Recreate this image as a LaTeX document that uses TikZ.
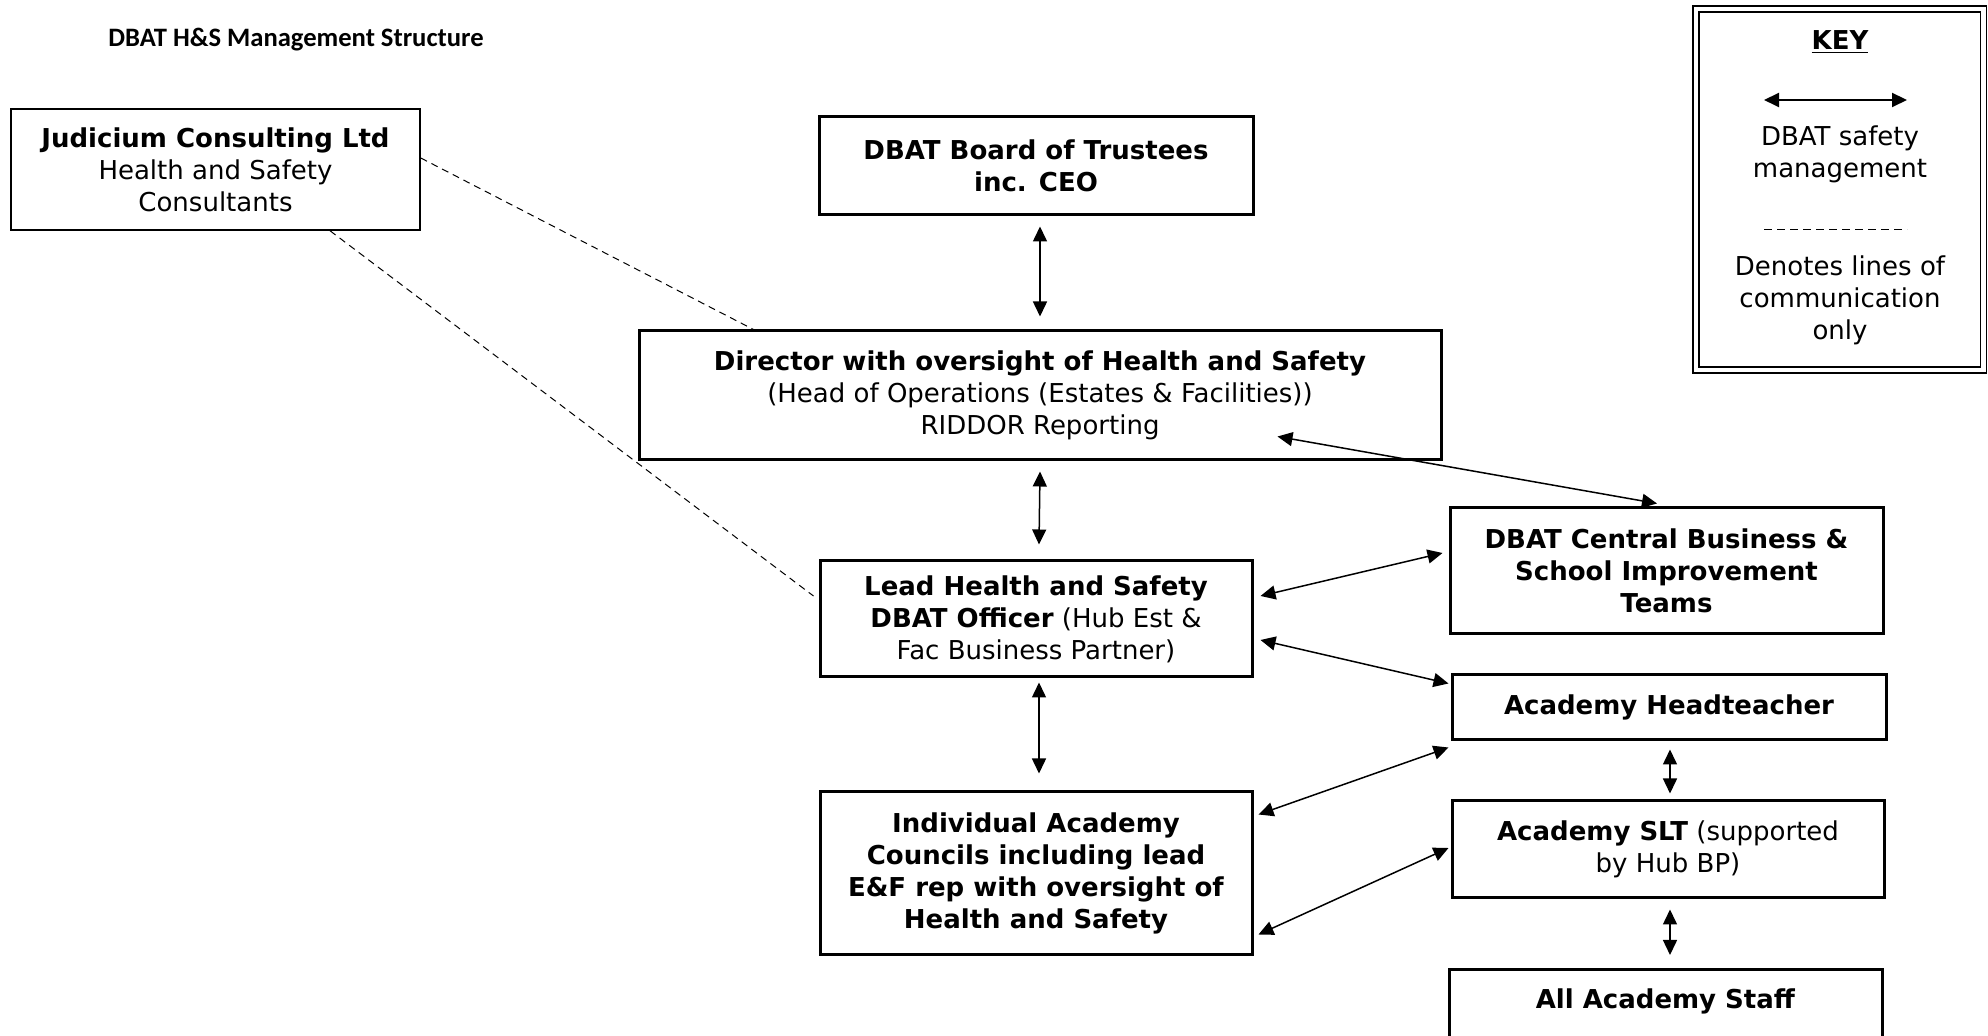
\documentclass[tikz,border=0pt]{standalone}
\usepackage{fontspec}
\setmainfont{DejaVu Sans}
\newfontfamily\titlefont{Carlito}
\usetikzlibrary{arrows.meta,positioning,calc}

\tikzset{
  box/.style={draw, line width=1.5pt, align=center, inner sep=0pt,
              font=\fontsize{13}{16}\selectfont},
  thinbox/.style={box, line width=0.75pt},
  keybox/.style={draw, line width=0.75pt, double, double distance=2.25pt},
  keytext/.style={font=\fontsize{13}{16}\selectfont, align=center, inner sep=0pt},
  link/.style={line width=0.75pt, {Triangle[length=7.5pt,width=7pt]}-{Triangle[length=7.5pt,width=7pt]}},
  commline/.style={line width=0.5pt, dash pattern=on 3.5pt off 2.5pt}
}

\begin{document}
\begin{tikzpicture}[x=0.5pt, y=-0.5pt]
  \useasboundingbox (0,0) rectangle (1988,1036);
  % Title
  \node[font=\titlefont\bfseries\fontsize{13.3}{16}\selectfont, anchor=west, inner sep=0pt] (title) at (108,40)
    {DBAT H\&S Management Structure};
  % Consultants
  \node[thinbox, minimum width=204.5pt, minimum height=60.5pt] (judicium) at (215.5,169.5)
    {\textbf{Judicium Consulting Ltd}\\Health and Safety\\Consultants};
  % Trust level
  \node[box, minimum width=217pt, minimum height=49pt] (board) at (1036,166)
    {\textbf{DBAT Board of Trustees}\\\textbf{inc. CEO}};
  \node[box, minimum width=401pt, minimum height=64.5pt] (director) at (1040,395.5)
    {\textbf{Director with oversight of Health and Safety}\\(Head of Operations (Estates \& Facilities))\\RIDDOR Reporting};
  \node[box, minimum width=216pt, minimum height=58pt] (lead) at (1036,619)
    {\textbf{Lead Health and Safety}\\\textbf{DBAT Officer} (Hub Est \&\\Fac Business Partner)};
  \node[box, minimum width=216pt, minimum height=81.5pt] (indiv) at (1036,873.5)
    {\textbf{Individual Academy}\\\textbf{Councils including lead}\\\textbf{E\&F rep with oversight of}\\\textbf{Health and Safety}};
  % Central and academy level
  \node[box, minimum width=216.5pt, minimum height=63pt] (central) at (1666.5,571)
    {\textbf{DBAT Central Business \&}\\\textbf{School Improvement}\\\textbf{Teams}};
  \node[box, minimum width=217pt, minimum height=32.5pt] (head) at (1669,707.5)
    {\textbf{Academy Headteacher}};
  \node[box, minimum width=216.5pt, anchor=north, text height=19.5pt,
        text depth=34pt] (staff) at (1665.5,968)
    {\textbf{All Academy Staff}};
  \node[box, minimum width=216pt, minimum height=48.5pt] (slt) at (1668,849.5)
    {\textbf{Academy SLT} (supported\\by Hub BP)};
  % Key
  \node[keybox, minimum width=143.75pt, minimum height=180.5pt] (key) at (1839.75,189.5) {};
  \node[keytext, font=\fontsize{13}{16}\selectfont\bfseries] (keytitle) at (1840,42) {\underline{KEY}};
  \coordinate (keyL) at (1764,100);
  \coordinate (keyR) at (1907,100);
  \draw[link, line width=1pt] (keyL) -- (keyR);
  \node[keytext] (keymgmt) at (1840,154) {DBAT safety\\management};
  \coordinate (keyDL) at (1764,230);
  \coordinate (keyDR) at (1907,230);
  \draw[commline, dash pattern=on 4pt off 2.5pt] (keyDL) -- (keyDR);
  \node[keytext] (keycomm) at (1840,300) {Denotes lines of\\communication\\only};
  % Lines of communication
  \draw[commline] ($(judicium.east)+(0,-11.5)$) -- ($(director.north west)+(116,0)$);
  \draw[commline] ($(judicium.south)+(114.5,0)$) -- ($(lead.west)+(-5,-23)$);
  % Safety management links
  \draw[link] ($(board.south)+(4,10)$) -- ($(director.north)+(0,-13)$);
  \draw[link] ($(director.south)+(0,10)$) -- ($(lead.north)+(3,-15)$);
  \draw[link] ($(lead.south)+(3,4)$) -- ($(indiv.north)+(3,-17)$);
  \draw[link] ($(director.south east)+(-165,-25)$) -- ($(central.north)+(-9.5,-3)$);
  \draw[link] ($(lead.east)+(7,-23)$) -- ($(central.west)+(-6,-18)$);
  \draw[link] ($(lead.east)+(7,21)$) -- ($(head.north west)+(-2,10)$);
  \draw[link] ($(head.south west)+(-2,6)$) -- ($(indiv.north east)+(5,24)$);
  \draw[link] ($(slt.west)+(-2,-1.5)$) -- ($(indiv.south east)+(5,-22)$);
  \draw[link] ($(head.south)+(1,8)$) -- ($(slt.north)+(2,-6)$);
  \draw[link] ($(slt.south)+(2,10)$) -- ($(staff.north)+(4.5,-13)$);
\end{tikzpicture}
\end{document}
